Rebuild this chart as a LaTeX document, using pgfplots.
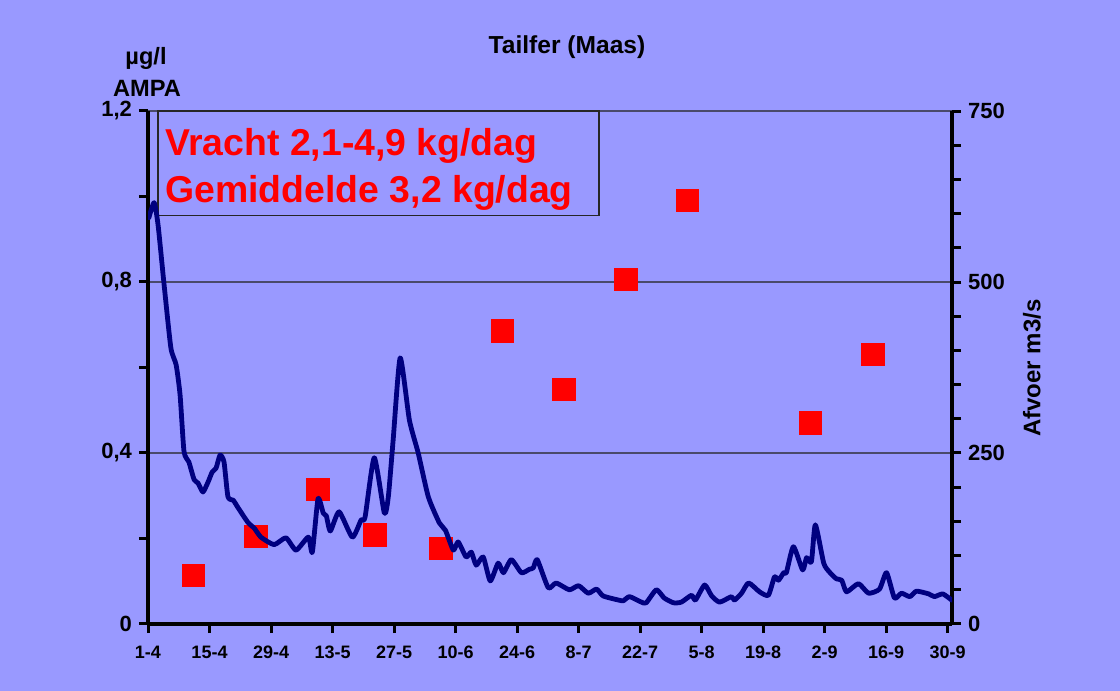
\documentclass[border=0pt]{standalone}
\usepackage{pgfplots}
\pgfplotsset{compat=1.18}
\usepackage{fontspec}
\setmainfont{Liberation Sans}
\definecolor{bg}{HTML}{9999FF}
\definecolor{navyline}{HTML}{000080}
\definecolor{gridc}{HTML}{4A4A6A}
\pgfplotstableread{
day val
10.3 0.114
24.5 0.205
38.6 0.315
51.6 0.209
66.6 0.177
80.7 0.685
94.6 0.549
108.8 0.806
122.8 0.991
150.8 0.471
165.0 0.631
}\ampa
\pgfplotstableread{
day q
0.2 594
1.4 616
2.3 583
3.6 500
5.2 404
6.4 379
7.3 335
8.2 252
9.3 237
10.5 211
11.4 206
12.5 193
13.7 208
14.6 222
15.5 228
16.4 247
17.3 237
18.2 186
19.4 181
20.5 170
22.8 148
24.2 140
25.7 127
28.7 116
31.4 126
33.7 108
36.5 127
37.4 105
38.7 183
39.9 162
40.6 158
41.5 136
43.5 164
46.5 127
48.5 152
49.4 156
51.5 243
53.8 162
54.7 186
55.8 269
57.4 389
59.5 298
61.5 250
63.8 186
66.3 148
67.7 137
69.5 108
70.6 120
72.4 98
73.6 105
74.7 86
76.3 98
77.9 63
79.7 89
80.9 75
82.7 94
85.0 75
86.8 80
87.7 82
88.6 94
91.1 53
92.9 60
95.9 50
98.0 56
100.2 45
102.1 51
103.6 41
107.1 35
108.2 34
109.6 40
112.3 32
113.4 31
115.7 50
117.5 38
119.6 31
121.4 32
123.7 42
124.6 35
126.7 57
128.3 41
130.1 32
132.8 40
133.5 35
135.1 45
136.7 60
139.2 47
141.2 42
142.6 69
143.5 64
144.7 75
145.3 75
146.9 113
149.0 79
149.9 97
151.0 91
151.9 145
153.8 89
155.1 76
156.7 66
157.9 64
159.0 47
161.7 59
164.0 45
166.5 51
168.1 75
169.9 38
171.5 45
173.4 40
174.9 48
177.7 44
179.0 40
180.9 44
182.9 35
}\afvoer
\pgfplotsset{
  common/.style={
    at={(74pt,33.5pt)}, anchor=south west,
    scale only axis, width=402pt, height=256.5pt,
    xmin=0, xmax=183,
    axis line style={line width=2pt, black},
    tick style={line width=1.5pt, black},
    major tick length=4.5pt, minor tick length=4.5pt,
    tick align=outside,
  }
}
\begin{document}
\begin{tikzpicture}[x=1pt,y=1pt]
\fill[bg] (0,0) rectangle (560,345.5);
\begin{axis}[common,
  axis x line*=bottom, axis y line*=left,
  ymin=0, ymax=1.2,
  ytick={0,0.4,0.8,1.2}, yticklabels={0,{0,4},{0,8},{1,2}},
  minor ytick={0.2,0.6,1.0},
  ymajorgrids, major grid style={line width=0.6pt, gridc},
  xtick={0,14,...,182},
  xticklabels={1-4,15-4,29-4,13-5,27-5,10-6,24-6,8-7,22-7,5-8,19-8,2-9,16-9,30-9},
  xticklabel style={font=\bfseries\fontsize{9}{10}\selectfont, yshift=-3pt},
  yticklabel style={font=\bfseries\fontsize{11}{12}\selectfont},
]
\addplot[only marks, mark=square*, mark size=5.67pt, color=red, mark options={fill=red, draw=none}] table[x=day, y=val] {\ampa};
\end{axis}
\draw[line width=0.6pt, black!85] (79,237.75) rectangle (299.5,290);
\node[anchor=base west, text=red, font=\bfseries\fontsize{18.7}{20}\selectfont, inner sep=0pt] at (82.5,267.6) {Vracht 2,1-4,9 kg/dag};
\node[anchor=base west, text=red, font=\bfseries\fontsize{18.7}{20}\selectfont, inner sep=0pt] at (82.5,244) {Gemiddelde 3,2 kg/dag};
\begin{axis}[common,
  axis x line=none, axis y line*=right,
  ymin=0, ymax=750,
  ytick={0,250,500,750}, yticklabels={0,250,500,750},
  minor ytick={50,100,...,700},
  yticklabel style={font=\bfseries\fontsize{11}{12}\selectfont},
]
\addplot[navyline, line width=2.4pt, line join=round, line cap=round, smooth, tension=0.35, no marks] table[x=day, y=q] {\afvoer};
\end{axis}
\node[font=\bfseries\fontsize{12.3}{14}\selectfont] at (283.5,322) {Tailfer (Maas)};
\node[font=\bfseries\fontsize{11.8}{13}\selectfont] at (73,316.5) {µg/l};
\node[font=\bfseries\fontsize{11.8}{13}\selectfont] at (73.5,301.5) {AMPA};
\node[font=\bfseries\fontsize{12}{13}\selectfont, rotate=90] at (516,161.5) {Afvoer m3/s};
\end{tikzpicture}
\end{document}
